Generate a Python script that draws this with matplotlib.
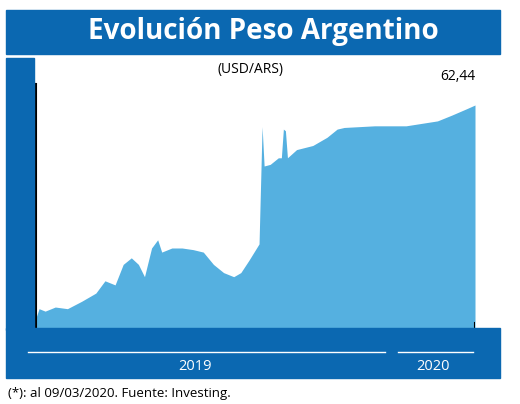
import matplotlib
matplotlib.use("Agg")
import matplotlib.pyplot as plt
import matplotlib.dates as mdates
import pandas as pd
from matplotlib.patches import Rectangle
from matplotlib.lines import Line2D

dates = ["2019-01-01","2019-01-04","2019-01-10","2019-01-20","2019-02-01","2019-02-15","2019-03-01",
 "2019-03-10","2019-03-20","2019-03-28","2019-04-05","2019-04-12","2019-04-18","2019-04-25","2019-05-01",
 "2019-05-05","2019-05-15","2019-05-25","2019-06-05","2019-06-15","2019-06-25","2019-07-05","2019-07-15",
 "2019-07-22","2019-07-30","2019-08-09","2019-08-12","2019-08-14","2019-08-20","2019-08-28","2019-08-31",
 "2019-09-02","2019-09-04","2019-09-06","2019-09-15","2019-10-01","2019-10-15","2019-10-25","2019-11-01",
 "2019-12-01","2020-01-01","2020-02-01","2020-02-15","2020-03-01","2020-03-09"]
values = [36.5,37.6,37.3,37.8,37.6,38.5,39.5,41.0,40.5,43.0,43.8,43.0,41.5,45.0,46.0,
 44.5,45.0,45.0,44.8,44.5,43.0,42.0,41.5,42.0,43.5,45.5,59.8,55.0,55.2,56.0,56.0,
 59.5,59.3,56.0,57.0,57.5,58.5,59.5,59.7,59.9,59.9,60.5,61.2,62.0,62.44]
month_labels = ["Ene","Feb","Mar","Abr","May","Jun","Jul","Ago","Sept.","Oct","Nov","Dic","Ene","Feb","Mar*"]
month_pos = ["2019-01-01","2019-02-01","2019-03-01","2019-04-01","2019-05-01","2019-06-01","2019-07-01",
 "2019-08-01","2019-09-01","2019-10-01","2019-11-01","2019-12-01","2020-01-01","2020-02-01","2020-03-01"]
yticks = [35,41,47,53,59,65]

BLUE = "#0b68b1"; FILL = "#55b0e0"
W, H = 520, 404
fig = plt.figure(figsize=(5.2, 4.04), dpi=100)
fx = lambda p: p / W
fy = lambda p: 1 - p / H
cond = ["Liberation Sans Narrow", "DejaVu Sans"]

fig.patches.append(Rectangle((fx(6), fy(54)), fx(494), 44/H, color=BLUE, transform=fig.transFigure))
fig.patches.append(Rectangle((fx(6), fy(330)), fx(28), 272/H, color=BLUE, transform=fig.transFigure))
fig.patches.append(Rectangle((fx(6), fy(378)), fx(494), 50/H, color=BLUE, transform=fig.transFigure))
fig.text(fx(263), fy(32), "Evolución Peso Argentino", color="white", fontsize=20, fontweight="bold",
         family="Open Sans", ha="center", va="center")
fig.text(fx(250), fy(70), "(USD/ARS)", fontsize=10, ha="center", va="center", family="Open Sans")
fig.text(fx(8), fy(393), "(*): al 09/03/2020. Fuente: Investing.", fontsize=9.5, ha="left", va="center", family="Open Sans")

ax = fig.add_axes([fx(36), fy(330), 439/W, 246/H])
x = pd.to_datetime(dates)
ax.fill_between(x, values, 35, color=FILL, linewidth=0)
ax.set_xlim(pd.Timestamp("2019-01-01"), pd.Timestamp("2020-03-09"))
ax.set_ylim(35, 65)
for s in ["top", "right"]:
    ax.spines[s].set_visible(False)
ax.spines["left"].set_linewidth(1.5)
ax.spines["bottom"].set_linewidth(1.5)
ax.set_facecolor("none")
ax.set_yticks(yticks)
ax.set_yticklabels([str(v) for v in yticks], color="white", fontsize=11, family=cond)
ax.tick_params(axis="y", length=6, width=1.5, pad=3)
ax.set_xticks(pd.to_datetime(month_pos))
ax.set_xticklabels(month_labels, color="white", fontsize=9, family=cond, ha="left")
ax.tick_params(axis="x", length=0, pad=4)
ax.axvline(pd.Timestamp("2020-03-09"), ymax=0.03, color="black", lw=1.5)
ax.annotate("62,44", (pd.Timestamp("2020-03-09"), 62.44), xytext=(0, 18), textcoords="offset points",
            ha="right", fontsize=10, family="Open Sans")

for x0, x1 in [(28, 385), (398, 473)]:
    fig.add_artist(Line2D([fx(x0), fx(x1)], [fy(352), fy(352)], color="white", lw=1, transform=fig.transFigure))
fig.text(fx(195), fy(367), "2019", color="white", fontsize=10.5, ha="center", va="center", family="Open Sans")
fig.text(fx(433), fy(367), "2020", color="white", fontsize=10.5, ha="center", va="center", family="Open Sans")

fig.savefig("out.png", dpi=100)
